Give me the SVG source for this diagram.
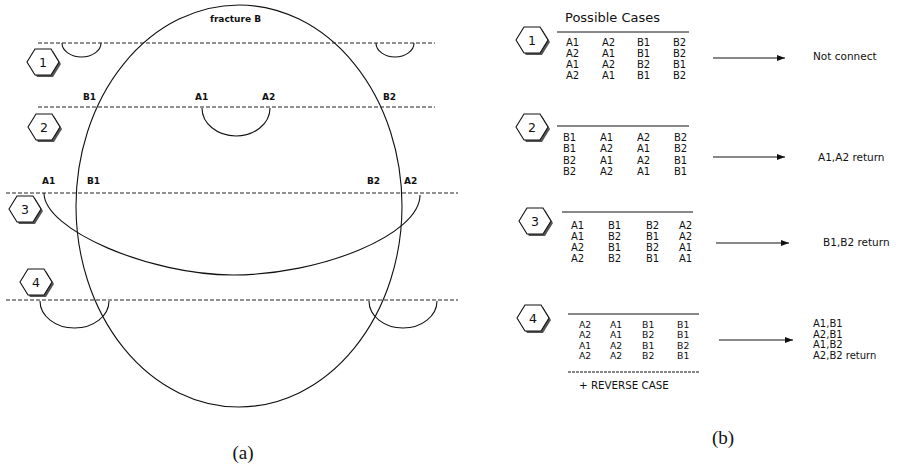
<svg xmlns="http://www.w3.org/2000/svg" xmlns:xlink="http://www.w3.org/1999/xlink" width="900" height="470" viewBox="0 0 900 470">
<style>
.dash{stroke:#222;stroke-width:1;stroke-dasharray:4 2;fill:none}
.ln{stroke:#111;stroke-width:1.1;fill:none}
.lbl{font-family:"DejaVu Sans",Verdana,sans-serif;font-size:9px;font-weight:bold;fill:#111}
.t{font-family:"DejaVu Sans",Tahoma,sans-serif;font-size:10px;fill:#111}
.t4{font-family:"DejaVu Sans",Tahoma,sans-serif;font-size:9.3px;fill:#111}
.r{font-family:"DejaVu Sans",Tahoma,sans-serif;font-size:10.5px;fill:#111}
.num{font-family:"DejaVu Sans",sans-serif;font-size:12.5px;fill:#111;text-anchor:middle}
.cap{font-family:"Liberation Serif","DejaVu Serif",serif;font-size:19px;fill:#111;text-anchor:middle}
.rule{stroke:#111;stroke-width:1}
</style>
<defs>
<g id="hex">
<polygon points="-14,2 -6,-11 10,-11 18,2 10,15 -6,15" fill="#555"/>
<polygon points="-16,0 -8,-13 8,-13 16,0 8,13 -8,13" fill="#fff" stroke="#111" stroke-width="1.1"/>
</g>
<marker id="ah" viewBox="0 0 8 6" refX="8" refY="3" markerWidth="8" markerHeight="6" markerUnits="userSpaceOnUse" orient="auto">
<path d="M0,0 L8,3 L0,6 Z" fill="#111"/>
</marker>
</defs>
<rect width="900" height="470" fill="#fff"/>

<g id="panel-a">
<ellipse id="fractureB" cx="239" cy="206" rx="163" ry="201" class="ln"/>
<text class="lbl" x="210" y="22">fracture B</text>
<line class="dash" x1="38" y1="43" x2="435" y2="43"/>
<line class="dash" x1="38" y1="107" x2="435" y2="107"/>
<line class="dash" x1="6" y1="193" x2="458" y2="193"/>
<line class="dash" x1="6" y1="300" x2="458" y2="300"/>
<path class="ln" d="M62,43 A19.5,14 0 0 0 101,43"/>
<path class="ln" d="M376,43 A19,14 0 0 0 414,43"/>
<path class="ln" d="M202,108 A34,28 0 0 0 270,108"/>
<path class="ln" d="M44,193 C44,230 150,275 233,275 C320,275 420,235 420,195"/>
<path class="ln" d="M40,301 A34.5,27 0 0 0 109,301"/>
<path class="ln" d="M369,301 A34,27 0 0 0 437,301"/>
<text class="lbl" x="83" y="100">B1</text>
<text class="lbl" x="195" y="100">A1</text>
<text class="lbl" x="262" y="100">A2</text>
<text class="lbl" x="383" y="100">B2</text>
<text class="lbl" x="42" y="184">A1</text>
<text class="lbl" x="87" y="184">B1</text>
<text class="lbl" x="367" y="184">B2</text>
<text class="lbl" x="404" y="184">A2</text>
<g id="hexL1"><use xlink:href="#hex" x="43" y="62"/><text class="num" x="43" y="66.5">1</text></g>
<g id="hexL2"><use xlink:href="#hex" x="44" y="127"/><text class="num" x="44" y="131.5">2</text></g>
<g id="hexL3"><use xlink:href="#hex" x="25" y="209"/><text class="num" x="25" y="213.5">3</text></g>
<g id="hexL4"><use xlink:href="#hex" x="36" y="282"/><text class="num" x="36" y="286.5">4</text></g>
<text class="cap" x="243" y="459">(a)</text>
</g>

<g id="panel-b">
<text x="565" y="22" style="font-family:'DejaVu Sans',sans-serif;font-size:13px;fill:#111">Possible Cases</text>

<g id="case1">
<use xlink:href="#hex" x="532" y="40"/><text class="num" x="532" y="44.5">1</text>
<line class="rule" x1="557" y1="32" x2="689" y2="32"/>
<text class="t" y="46"><tspan x="566">A1</tspan><tspan x="602">A2</tspan><tspan x="637">B1</tspan><tspan x="673">B2</tspan></text>
<text class="t" y="57"><tspan x="566">A2</tspan><tspan x="602">A1</tspan><tspan x="637">B1</tspan><tspan x="673">B2</tspan></text>
<text class="t" y="68"><tspan x="566">A1</tspan><tspan x="602">A2</tspan><tspan x="637">B2</tspan><tspan x="673">B1</tspan></text>
<text class="t" y="79"><tspan x="566">A2</tspan><tspan x="602">A1</tspan><tspan x="637">B1</tspan><tspan x="673">B2</tspan></text>
</g>
<g id="result1"><text class="r" x="813" y="60">Not connect</text></g>

<g id="case2">
<use xlink:href="#hex" x="532" y="127"/><text class="num" x="532" y="131.5">2</text>
<line class="rule" x1="557" y1="126" x2="689" y2="126"/>
<text class="t" y="141"><tspan x="563">B1</tspan><tspan x="600">A1</tspan><tspan x="637">A2</tspan><tspan x="674">B2</tspan></text>
<text class="t" y="152.3"><tspan x="563">B1</tspan><tspan x="600">A2</tspan><tspan x="637">A1</tspan><tspan x="674">B2</tspan></text>
<text class="t" y="163.6"><tspan x="563">B2</tspan><tspan x="600">A1</tspan><tspan x="637">A2</tspan><tspan x="674">B1</tspan></text>
<text class="t" y="175"><tspan x="563">B2</tspan><tspan x="600">A2</tspan><tspan x="637">A1</tspan><tspan x="674">B1</tspan></text>
</g>
<g id="result2"><text class="r" x="818" y="161">A1,A2 return</text></g>

<g id="case3">
<use xlink:href="#hex" x="535" y="221"/><text class="num" x="535" y="225.5">3</text>
<line class="rule" x1="562" y1="212" x2="693" y2="212"/>
<text class="t" y="229"><tspan x="571">A1</tspan><tspan x="608">B1</tspan><tspan x="646">B2</tspan><tspan x="679">A2</tspan></text>
<text class="t" y="240"><tspan x="571">A1</tspan><tspan x="608">B2</tspan><tspan x="646">B1</tspan><tspan x="679">A2</tspan></text>
<text class="t" y="251"><tspan x="571">A2</tspan><tspan x="608">B1</tspan><tspan x="646">B2</tspan><tspan x="679">A1</tspan></text>
<text class="t" y="262"><tspan x="571">A2</tspan><tspan x="608">B2</tspan><tspan x="646">B1</tspan><tspan x="679">A1</tspan></text>
</g>
<g id="result3"><text class="r" x="823" y="246">B1,B2 return</text></g>

<g id="case4">
<use xlink:href="#hex" x="533" y="318"/><text class="num" x="533" y="322.5">4</text>
<line class="rule" x1="568" y1="314" x2="699" y2="314"/>
<text class="t4" y="327.5"><tspan x="579">A2</tspan><tspan x="610">A1</tspan><tspan x="642">B1</tspan><tspan x="677">B1</tspan></text>
<text class="t4" y="338"><tspan x="579">A2</tspan><tspan x="610">A1</tspan><tspan x="642">B2</tspan><tspan x="677">B1</tspan></text>
<text class="t4" y="348.5"><tspan x="579">A1</tspan><tspan x="610">A2</tspan><tspan x="642">B1</tspan><tspan x="677">B2</tspan></text>
<text class="t4" y="359"><tspan x="579">A2</tspan><tspan x="610">A2</tspan><tspan x="642">B2</tspan><tspan x="677">B1</tspan></text>
<line class="rule" x1="568" y1="372" x2="699" y2="372" stroke-dasharray="3 1"/>
<text class="t" x="579" y="389" style="font-size:10.3px">+ REVERSE CASE</text>
</g>
<g id="result4">
<text class="t" x="813" y="327">A1,B1</text>
<text class="t" x="813" y="337.5">A2,B1</text>
<text class="t" x="813" y="348">A1,B2</text>
<text class="t" x="813" y="358.5">A2,B2 return</text>
</g>

<g id="connectors">
<line class="rule" x1="713" y1="58" x2="785" y2="58" marker-end="url(#ah)"/>
<line class="rule" x1="713" y1="157" x2="785" y2="157" marker-end="url(#ah)"/>
<line class="rule" x1="716" y1="243" x2="789" y2="243" marker-end="url(#ah)"/>
<line class="rule" x1="719" y1="340" x2="793" y2="340" marker-end="url(#ah)"/>
</g>
<text class="cap" x="723" y="444">(b)</text>
</g>
</svg>
